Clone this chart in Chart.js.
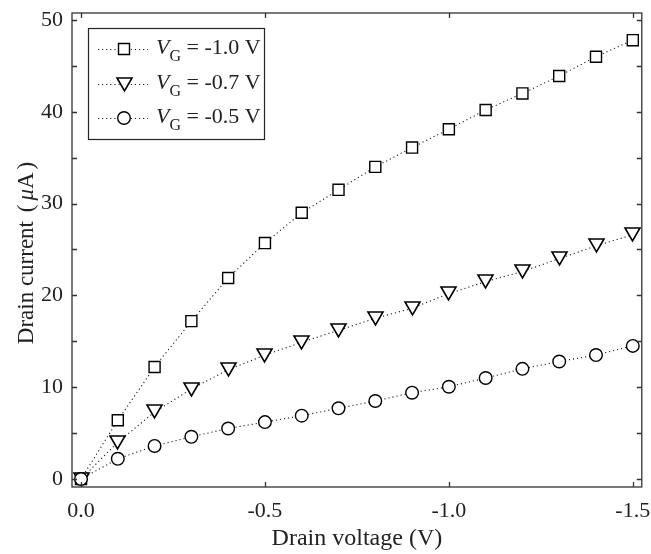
<!DOCTYPE html>
<html>
<head>
<meta charset="utf-8">
<script src="https://cdn.jsdelivr.net/npm/chart.js@4.4.0/dist/chart.umd.min.js"></script>
<style>
  html, body { margin: 0; padding: 0; background: #fff; }
  #wrap { width: 651px; height: 554px; }
</style>
</head>
<body>
<div id="wrap"><canvas id="grafico" width="651" height="554"></canvas></div>
<script>
// tensao de dreno (V)
const tensaoDreno = [0, -0.1, -0.2, -0.3, -0.4, -0.5, -0.6, -0.7, -0.8, -0.9, -1.0, -1.1, -1.2, -1.3, -1.4, -1.5];
// corrente de dreno (uA) para cada tensao de porta
const correnteVg10 = [0, 6.4, 12.2, 17.2, 21.9, 25.7, 29.0, 31.5, 34.0, 36.1, 38.1, 40.2, 42.0, 43.9, 46.0, 47.8];
const correnteVg07 = [0, 4.0, 7.3, 9.8, 11.9, 13.5, 14.9, 16.2, 17.5, 18.6, 20.2, 21.5, 22.6, 24.0, 25.4, 26.6];
const correnteVg05 = [0, 2.2, 3.6, 4.6, 5.5, 6.2, 6.9, 7.7, 8.5, 9.4, 10.05, 11.0, 12.0, 12.8, 13.5, 14.5];
const rotulosVg = ['-1.0', '-0.7', '-0.5'];
const ticksX = [0, -0.5, -1.0, -1.5];
const ticksY = [0, 10, 20, 30, 40, 50];
const ticksYMenor = [5, 15, 25, 35, 45];

const FONTE = 'Liberation Serif';
const COR_TEXTO = '#222';
const COR_LINHA = '#000';

function criaTriangulo() {
    const c = document.createElement('canvas');
    c.width = 19; c.height = 17;
    const g = c.getContext('2d');
    g.beginPath();
    g.moveTo(2, 2); g.lineTo(17, 2); g.lineTo(9.5, 15); g.closePath();
    g.fillStyle = '#fff'; g.fill();
    g.lineWidth = 1.6; g.strokeStyle = COR_LINHA; g.stroke();
    return c;
}
const triangulo = criaTriangulo();

function desenhaMarcador(ctx, estilo, x, y) {
    ctx.save();
    ctx.fillStyle = '#fff';
    ctx.strokeStyle = COR_LINHA;
    ctx.lineWidth = 1.4;
    ctx.setLineDash([]);
    if (estilo === 'rect') {
        ctx.beginPath(); ctx.rect(x - 5.5, y - 5.5, 11, 11); ctx.fill(); ctx.stroke();
    } else if (estilo === 'circle') {
        ctx.beginPath(); ctx.arc(x, y, 6.3, 0, Math.PI * 2); ctx.fill(); ctx.stroke();
    } else {
        ctx.drawImage(triangulo, Math.round(x - triangulo.width / 2), Math.round(y - triangulo.height / 2));
    }
    ctx.restore();
}

// escreve trechos com fontes diferentes em sequencia (gap = espaco extra antes do trecho)
function textoComposto(ctx, partes, x, y, alinhamento) {
    let largura = 0;
    partes.forEach(p => { ctx.font = p.fonte; largura += ctx.measureText(p.t).width + (p.gap || 0); });
    let cx = alinhamento === 'center' ? x - largura / 2 : x;
    partes.forEach(p => {
        ctx.font = p.fonte;
        cx += p.gap || 0;
        ctx.fillText(p.t, cx, y + (p.dy || 0));
        cx += ctx.measureText(p.t).width;
    });
}

function serie(valores, estilo, ordem) {
    return {
        data: tensaoDreno.map((x, i) => ({ x: x, y: valores[i] })),
        borderColor: '#111',
        borderWidth: 1.1,
        borderDash: [1.1, 3],
        pointStyle: estilo === 'triangle' ? triangulo : estilo,
        pointRadius: estilo === 'rect' ? 7.8 : 6.3,
        pointBackgroundColor: '#fff',
        pointBorderColor: COR_LINHA,
        pointBorderWidth: 1.4,
        tension: 0,
        clip: false,
        order: ordem
    };
}

// imagem do triangulo sem suavizacao, para ficar nitida
const nitido = {
    id: 'nitido',
    beforeDatasetsDraw(chart) { chart.ctx.save(); chart.ctx.imageSmoothingEnabled = false; },
    afterDatasetsDraw(chart) { chart.ctx.restore(); }
};

// moldura, ticks internos, titulos dos eixos e legenda
const moldura = {
    id: 'moldura',
    afterDraw(chart) {
        const ctx = chart.ctx;
        const a = chart.chartArea;
        const sx = chart.scales.x, sy = chart.scales.y;
        ctx.save();
        ctx.strokeStyle = '#333';
        ctx.lineWidth = 1.3;
        ctx.setLineDash([]);
        ctx.strokeRect(a.left, a.top, a.right - a.left, a.bottom - a.top);
        ctx.beginPath();
        ticksX.forEach(v => {
            const px = Math.round(sx.getPixelForValue(v)) + 0.5;
            ctx.moveTo(px, a.bottom); ctx.lineTo(px, a.bottom - 5);
            ctx.moveTo(px, a.top); ctx.lineTo(px, a.top + 5);
        });
        ticksY.concat(ticksYMenor).forEach(v => {
            const py = Math.round(sy.getPixelForValue(v)) + 0.5;
            ctx.moveTo(a.left, py); ctx.lineTo(a.left + 5, py);
            ctx.moveTo(a.right, py); ctx.lineTo(a.right - 5, py);
        });
        ctx.stroke();

        // titulos
        ctx.fillStyle = COR_TEXTO;
        ctx.textBaseline = 'alphabetic';
        textoComposto(ctx, [{ t: 'Drain voltage (V)', fonte: `24px ${FONTE}` }], (a.left + a.right) / 2, 545, 'center');
        ctx.save();
        ctx.translate(33, (a.top + a.bottom) / 2 + 3);
        ctx.rotate(-Math.PI / 2);
        textoComposto(ctx, [
            { t: 'Drain current', fonte: `23px ${FONTE}` },
            { t: ' (', fonte: `23px ${FONTE}`, gap: 3 },
            { t: 'μ', fonte: `italic 23px ${FONTE}`, gap: 4 },
            { t: 'A', fonte: `23px ${FONTE}` },
            { t: ')', fonte: `23px ${FONTE}`, gap: 3 }
        ], 0, 0, 'center');
        ctx.restore();

        // legenda
        ctx.fillStyle = '#fff';
        ctx.fillRect(88, 28, 176, 111);
        ctx.strokeStyle = '#222';
        ctx.lineWidth = 1.2;
        ctx.strokeRect(88.5, 28.5, 176, 111);
        const estilos = ['rect', 'triangle', 'circle'];
        const linhas = [49, 84, 118];
        estilos.forEach((est, i) => {
            const y = linhas[i];
            ctx.save();
            ctx.strokeStyle = '#111';
            ctx.lineWidth = 1.1;
            ctx.setLineDash([1.1, 3]);
            ctx.beginPath(); ctx.moveTo(98, y + 0.5); ctx.lineTo(148, y + 0.5); ctx.stroke();
            ctx.restore();
            desenhaMarcador(ctx, est, 124, y);
            ctx.fillStyle = COR_TEXTO;
            textoComposto(ctx, [
                { t: 'V', fonte: `italic 22px ${FONTE}` },
                { t: 'G', fonte: `16px ${FONTE}`, dy: 7 },
                { t: ` = ${rotulosVg[i]} V`, fonte: `22px ${FONTE}` }
            ], 156, y + 5, 'left');
        });
        ctx.restore();
    }
};

new Chart(document.getElementById('grafico'), {
    type: 'line',
    data: {
        datasets: [
            serie(correnteVg10, 'rect', 3),
            serie(correnteVg07, 'triangle', 2),
            serie(correnteVg05, 'circle', 1)
        ]
    },
    options: {
        responsive: false,
        animation: false,
        events: [],
        layout: { padding: { top: 13, right: 9, bottom: 0, left: 0 } },
        plugins: { legend: { display: false }, tooltip: { enabled: false } },
        scales: {
            x: {
                type: 'linear',
                reverse: true,
                min: -1.5245,
                max: 0.0245,
                grid: { display: false, drawTicks: false },
                border: { display: false },
                afterBuildTicks: s => { s.ticks = ticksX.map(v => ({ value: v })); },
                afterFit: s => { s.height = 67; s.paddingLeft = 0; s.paddingRight = 0; },
                ticks: {
                    padding: 11,
                    color: COR_TEXTO,
                    font: { family: FONTE, size: 22 },
                    callback: v => Number(v).toFixed(1)
                }
            },
            y: {
                type: 'linear',
                min: -0.87,
                max: 50.76,
                grid: { display: false, drawTicks: false },
                border: { display: false },
                afterBuildTicks: s => { s.ticks = ticksY.map(v => ({ value: v })); },
                afterFit: s => { s.width = 72; s.paddingTop = 0; s.paddingBottom = 0; },
                ticks: {
                    padding: 9,
                    color: COR_TEXTO,
                    font: { family: FONTE, size: 22 },
                    callback: v => String(v)
                }
            }
        }
    },
    plugins: [nitido, moldura]
});
</script>
</body>
</html>
